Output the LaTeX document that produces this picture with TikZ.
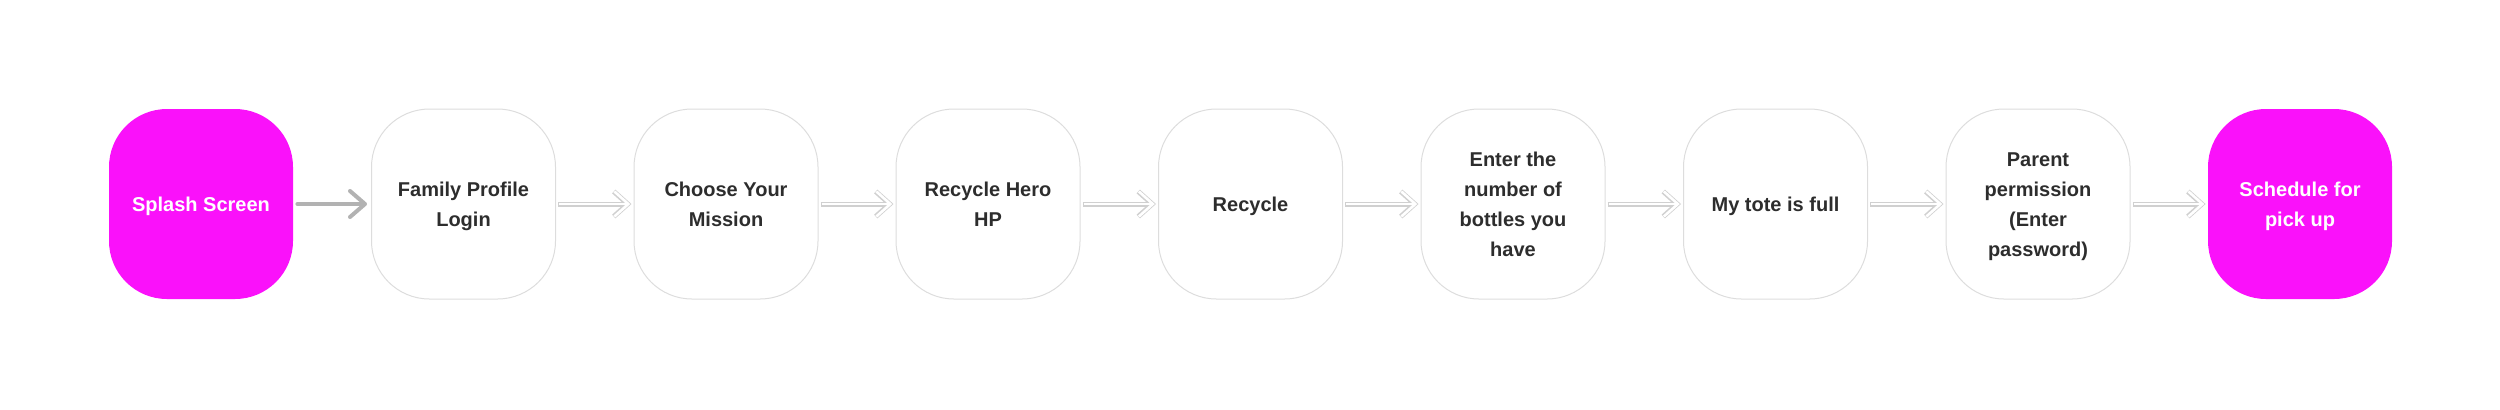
\documentclass[tikz,border=0pt]{standalone}
\usepackage{fontspec}
\setmainfont{Liberation Sans}
\usetikzlibrary{arrows.meta}
\definecolor{hotpink}{RGB}{250,17,250}
\definecolor{edgegray}{RGB}{221,221,221}
\definecolor{inkgray}{RGB}{45,45,45}
\definecolor{arrowgray}{RGB}{178,178,178}
\definecolor{hollowgray}{RGB}{208,208,208}

\begin{document}
\begin{tikzpicture}[x=0.5pt,y=-0.5pt]
        \useasboundingbox (0,0) rectangle (2500,409);
        \tikzstyle{every node}=[shape=rectangle,rounded corners=29pt,minimum width=92pt,minimum height=95pt,inner sep=0pt,align=center,
            font=\fontsize{10}{15}\selectfont\bfseries,text height=10.5pt,text depth=3pt]
        \tikzstyle{twoline}=[text height=25.5pt]
        \tikzstyle{fourline}=[text height=55.5pt]
        \tikzstyle{screen}=[draw=edgegray,line width=0.5pt,fill=white,text=inkgray]
        \tikzstyle{endpoint}=[fill=hotpink,text=white]
        \tikzstyle{grayarrow}=[draw=arrowgray,line width=2pt,line cap=round,shorten <=2pt,shorten >=2pt,-{Straight Barb[length=7.5pt,width=13pt,round]}]
        \tikzstyle{hollow}=[draw=white,line width=1.3pt,shorten <=1.6pt,shorten >=1.6pt,-{Straight Barb[length=7pt,width=12.5pt]},
            preaction={draw=hollowgray,line width=2.5pt,shorten <=1pt,shorten >=1pt,-{Straight Barb[length=7pt,width=12.5pt]}}]

            \node[endpoint] (a) at (201,204) {Splash Screen};
            \node[screen,twoline] (b) at (463.5,204) {Family Profile\\Login};
            \node[screen,twoline] (c) at (726,204) {Choose Your\\Mission};
            \node[screen,twoline] (d) at (988,204) {Recycle Hero\\HP};
            \node[screen] (e) at (1250.5,204) {Recycle};
            \node[screen,fourline] (f) at (1513,204) {Enter the\\number of\\bottles you\\have};
            \node[screen] (g) at (1775.5,204) {My tote is full};
            \node[screen,fourline] (h) at (2038,204) {Parent\\permission\\(Enter\\password)};
            \node[endpoint,twoline] (i) at (2300,204) {Schedule for\\pick up};

            \draw[grayarrow] (a) -- (b);
            \draw[hollow] (b) -- (c);
            \draw[hollow] (c) -- (d);
            \draw[hollow] (d) -- (e);
            \draw[hollow] (e) -- (f);
            \draw[hollow] (f) -- (g);
            \draw[hollow] (g) -- (h);
            \draw[hollow] (h) -- (i);
        \end{tikzpicture}
\end{document}
